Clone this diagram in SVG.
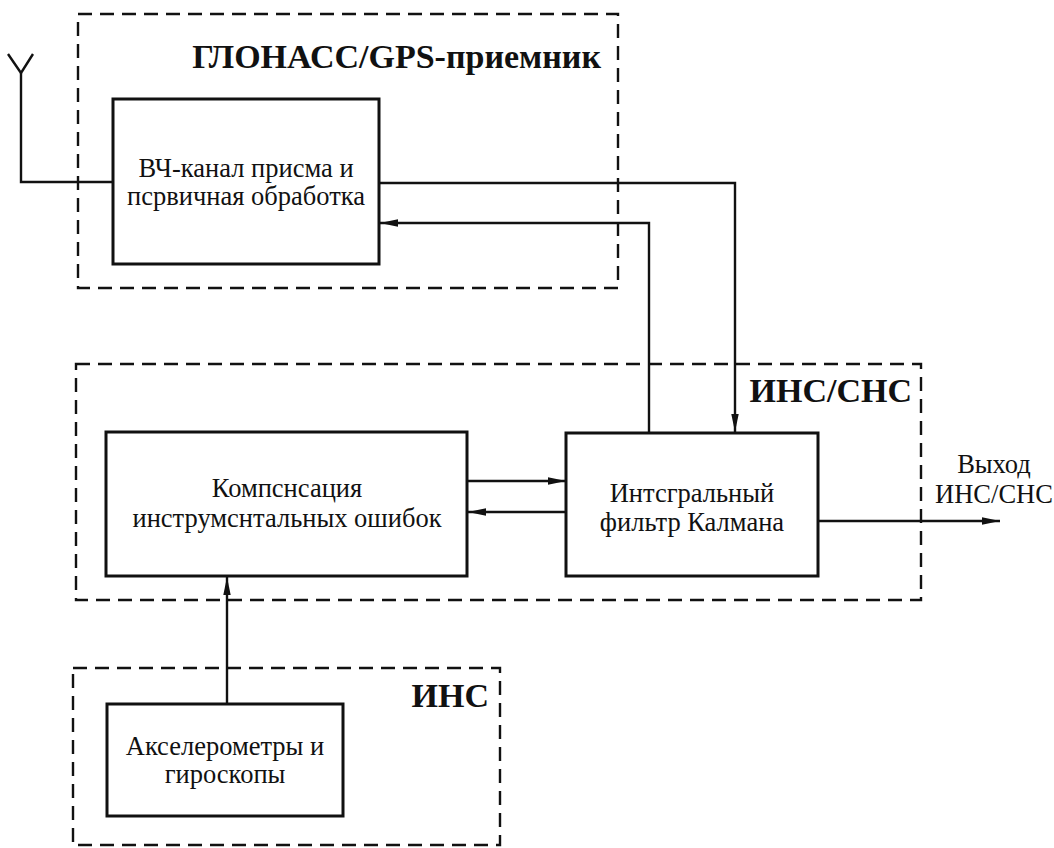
<svg xmlns="http://www.w3.org/2000/svg" width="1054" height="848" viewBox="0 0 1054 848">
<defs>
<style>
.dash{fill:none;stroke:#111;stroke-width:2.4;stroke-dasharray:14 8}
.box{fill:#fff;stroke:#111;stroke-width:3}
.ln{fill:none;stroke:#111;stroke-width:2.4}
.t{font-family:"Liberation Serif","Times New Roman",serif;font-size:26.5px;fill:#111;text-anchor:middle}
.h{font-family:"Liberation Serif","Times New Roman",serif;font-size:34px;font-weight:bold;fill:#111;text-anchor:end}
</style>
<marker id="ah" viewBox="0 0 18 9" refX="18" refY="4.5" markerWidth="18" markerHeight="9" markerUnits="userSpaceOnUse" orient="auto">
<path d="M0,0.8 L18,4.5 L0,8.2 Z" fill="#111"/>
</marker>
</defs>
<rect width="1054" height="848" fill="#fff"/>
<g id="gps-group">
<rect class="dash" x="78" y="14" width="540" height="274"/>
<text class="h" x="601" y="68">ГЛОНАСС/GPS-приемник</text>
</g>
<g id="ins-sns-group">
<rect class="dash" x="76" y="364" width="845" height="236"/>
<text class="h" x="912" y="402">ИНС/СНС</text>
</g>
<g id="ins-group">
<rect class="dash" x="73" y="668" width="427" height="177"/>
<text class="h" x="489" y="707">ИНС</text>
</g>
<g id="connectors">
<polyline class="ln" points="8,54 21,73 33,54"/>
<polyline class="ln" points="21,73 21,182 113,182"/>
<polyline class="ln" points="379,183 735,183 735,432" marker-end="url(#ah)"/>
<polyline class="ln" points="649,432 649,223 380,223" marker-end="url(#ah)"/>
<line class="ln" x1="467" y1="481" x2="566" y2="481" marker-end="url(#ah)"/>
<line class="ln" x1="566" y1="512" x2="468" y2="512" marker-end="url(#ah)"/>
<line class="ln" x1="819" y1="521" x2="1000" y2="521" marker-end="url(#ah)"/>
<line class="ln" x1="227" y1="704" x2="227" y2="577" marker-end="url(#ah)"/>
</g>
<g id="rf">
<rect class="box" x="113" y="99" width="266" height="165"/>
<text class="t" x="246" y="177">ВЧ-канал присма и</text>
<text class="t" x="246" y="205">псрвичная обработка</text>
</g>
<g id="comp">
<rect class="box" x="106" y="432" width="361" height="144"/>
<text class="t" x="287" y="497">Компснсация</text>
<text class="t" x="287" y="527">инструмснтальных ошибок</text>
</g>
<g id="kalman">
<rect class="box" x="566" y="433" width="252" height="143"/>
<text class="t" x="692" y="502">Интсгральный</text>
<text class="t" x="692" y="531">фильтр Калмана</text>
</g>
<g id="accel">
<rect class="box" x="107" y="704" width="236" height="112"/>
<text class="t" x="225" y="755">Акселерометры и</text>
<text class="t" x="225" y="783">гироскопы</text>
</g>
<g id="output-label">
<text class="t" x="994" y="473">Выход</text>
<text class="t" x="994" y="503">ИНС/СНС</text>
</g>
</svg>
